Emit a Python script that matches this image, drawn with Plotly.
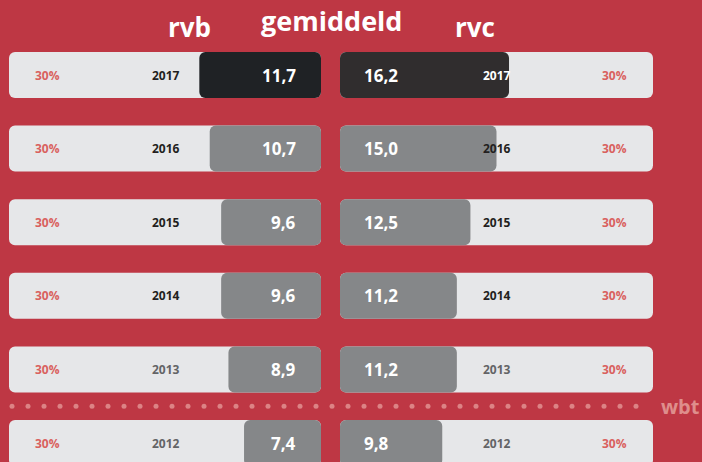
import plotly.graph_objects as go

years = ["2017", "2016", "2015", "2014", "2013", "2012"]
rvb = [11.7, 10.7, 9.6, 9.6, 8.9, 7.4]
rvc = [16.2, 15.0, 12.5, 11.2, 11.2, 9.8]
track_max = [30, 30, 30, 30, 30, 30]
track_label = "30%"
headers = ["rvb", "gemiddeld", "rvc"]
divider_label = "wbt"

BG = "#BE3744"
TRACK = "#E6E7E9"
GREY = "#858789"
DARK_L = "#1F2225"
DARK_R = "#302D2E"
PINK = "#D9615E"
FONT = "Open Sans"

rows = list(range(len(years)))
zeros = [0] * len(years)
left_cols = [DARK_L] + [GREY] * (len(years) - 1)
right_cols = [DARK_R] + [GREY] * (len(years) - 1)
year_cols = ["#231F20"] * 4 + ["#636466"] * 2
right_year_cols = ["#FFFFFF"] + year_cols[1:]

fig = go.Figure()


def rounded_bar(values, color, axis, hover=True):
    fig.add_trace(go.Bar(y=rows, x=values, base=zeros, orientation="h",
                         marker=dict(color=color, cornerradius=6, line_width=0),
                         width=0.625, xaxis=axis, yaxis="y",
                         hoverinfo=None if hover else "skip"))


rounded_bar(track_max, TRACK, "x", hover=False)
rounded_bar(track_max, TRACK, "x2", hover=False)
rounded_bar(rvb, left_cols, "x4")
rounded_bar(rvc, right_cols, "x5")

# dotted divider
dot_x = list(range(12, 652, 16))
fig.add_trace(go.Scatter(x=dot_x, y=[4.5] * len(dot_x), mode="markers",
                         marker=dict(size=5, color="#DC8385"), xaxis="x3", yaxis="y",
                         hoverinfo="skip"))

ann = []
for i, y in enumerate(years):
    ann.append(dict(x=26.3, y=i, xref="x", yref="y", text=track_label, showarrow=False,
                    font=dict(family=FONT, size=12, color=PINK, weight="bold")))
    ann.append(dict(x=26.3, y=i, xref="x2", yref="y", text=track_label, showarrow=False,
                    font=dict(family=FONT, size=12, color=PINK, weight="bold")))
    ann.append(dict(x=14.9, y=i, xref="x", yref="y", text=y, showarrow=False,
                    font=dict(family=FONT, size=12, color=year_cols[i], weight="bold")))
    ann.append(dict(x=15.0, y=i, xref="x2", yref="y", text=y, showarrow=False,
                    font=dict(family=FONT, size=12, color=right_year_cols[i], weight="bold")))
    ann.append(dict(x=2.2, y=i, xref="x", yref="y", text=f"{rvb[i]:.1f}".replace(".", ","),
                    xanchor="right", showarrow=False,
                    font=dict(family=FONT, size=17, color="white", weight="bold")))
    ann.append(dict(x=2.1, y=i, xref="x2", yref="y", text=f"{rvc[i]:.1f}".replace(".", ","),
                    xanchor="left", showarrow=False,
                    font=dict(family=FONT, size=17, color="white", weight="bold")))

ann.append(dict(x=166 / 702, y=1 - 27 / 462, xref="paper", yref="paper", text=headers[0],
                yanchor="middle", showarrow=False,
                font=dict(family=FONT, size=26, color="white", weight="bold")))
ann.append(dict(x=331 / 702, y=1 - 21 / 462, xref="paper", yref="paper", text=headers[1],
                yanchor="middle", showarrow=False,
                font=dict(family=FONT, size=27, color="white", weight="bold")))
ann.append(dict(x=497 / 702, y=1 - 27 / 462, xref="paper", yref="paper", text=headers[2],
                yanchor="middle", showarrow=False,
                font=dict(family=FONT, size=26, color="white", weight="bold")))
ann.append(dict(x=659 / 702, y=4.5, xref="paper", yref="y", text=divider_label, xanchor="left",
                showarrow=False, font=dict(family=FONT, size=20, color="#DE8E8C", weight="bold")))

ax = dict(showgrid=False, zeroline=False, showticklabels=False, fixedrange=True)
fig.update_layout(
    width=702, height=462, margin=dict(l=0, r=0, t=0, b=0),
    paper_bgcolor=BG, plot_bgcolor="rgba(0,0,0,0)",
    barmode="overlay", showlegend=False,
    xaxis=dict(domain=[9 / 702, 321 / 702], range=[30, 0], anchor="y", **ax),
    xaxis2=dict(domain=[340 / 702, 653 / 702], range=[0, 30], anchor="y", **ax),
    xaxis3=dict(domain=[0, 1], range=[0, 702], anchor="y", **ax),
    xaxis4=dict(overlaying="x", range=[30, 0], anchor="y", **ax),
    xaxis5=dict(overlaying="x2", range=[0, 30], anchor="y", **ax),
    yaxis=dict(domain=[0, 1], range=[5 + 19 / 73.6, -75 / 73.6], **ax),
    annotations=ann,
)

fig.write_html("out.html", config={"displayModeBar": False},
               post_script="document.body.style.margin='0';document.body.style.overflow='hidden';")
